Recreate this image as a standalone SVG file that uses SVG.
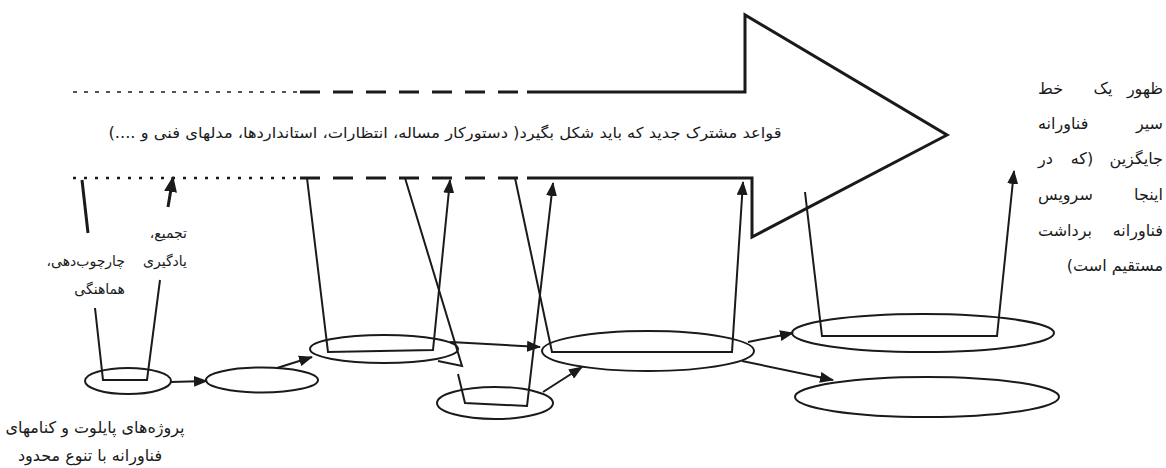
<svg xmlns="http://www.w3.org/2000/svg" width="1166" height="468" viewBox="0 0 1166 468">
<defs>
<marker id="ah" markerUnits="userSpaceOnUse" markerWidth="14" markerHeight="11" refX="13" refY="5.5" orient="auto"><path d="M0,0 L14,5.5 L0,11 z" fill="#1a1a1a"/></marker>
<marker id="ahb" markerUnits="userSpaceOnUse" markerWidth="16" markerHeight="13" refX="15" refY="6.5" orient="auto"><path d="M0,0 L16,6.5 L0,13 z" fill="#1a1a1a"/></marker>
<style>
.t{font-family:"DejaVu Sans",sans-serif;fill:#1a1a1a}
.ln{fill:none;stroke:#1a1a1a;stroke-width:2;stroke-linejoin:miter}
.el{fill:none;stroke:#1a1a1a;stroke-width:2}
.big{fill:none;stroke:#1a1a1a;stroke-width:3;stroke-linejoin:miter}
</style>
</defs>
<rect width="1166" height="468" fill="#ffffff"/>
<g id="big-arrow">
<path class="big" d="M527,92 L745,92 L745,15 L947,135 L752,237 L752,178 L527,178"/>
<path d="M300,92 L527,92" stroke="#1a1a1a" stroke-width="3" stroke-dasharray="20 13"/>
<path d="M73,92 L300,92" stroke="#1a1a1a" stroke-width="1.5" stroke-dasharray="4 7"/>
<path d="M300,178 L527,178" stroke="#1a1a1a" stroke-width="3" stroke-dasharray="20 13"/>
<path d="M73,178 L300,178" stroke="#1a1a1a" stroke-width="2.5" stroke-dasharray="3 8"/>
<text class="t" x="445" y="138" font-size="15" text-anchor="middle" direction="rtl" textLength="673" lengthAdjust="spacingAndGlyphs">قواعد مشترک  جدید که باید شکل بگیرد( دستورکار مساله، انتظارات، استانداردها، مدلهای فنی و ....)</text>
</g>
<g id="node-e1"><ellipse class="el" cx="128" cy="381" rx="43" ry="13"/></g>
<g id="node-e2"><ellipse class="el" cx="262" cy="380" rx="56" ry="12.5"/></g>
<g id="node-e3"><ellipse class="el" cx="384" cy="349" rx="74" ry="14"/></g>
<g id="node-e4"><ellipse class="el" cx="495" cy="403" rx="58" ry="16"/></g>
<g id="node-e5"><ellipse class="el" cx="648" cy="351" rx="106" ry="20"/></g>
<g id="node-e6"><ellipse class="el" cx="923" cy="333" rx="131" ry="19"/></g>
<g id="node-e7"><ellipse class="el" cx="927" cy="397" rx="132" ry="20"/></g>
<g id="connectors">
<path d="M82,180 L88,233" stroke="#1a1a1a" stroke-width="3"/>
<path d="M168,207 L173,177" stroke="#1a1a1a" stroke-width="3" marker-end="url(#ahb)"/>
<path class="ln" d="M95,308 L103,380 L147,380 L160,280"/>
<path class="ln" d="M171,382 L207,381" marker-end="url(#ah)"/>
<path class="ln" d="M277,368 L312,357" marker-end="url(#ah)"/>
<path class="ln" d="M307,178 L328,352 L433,350 L450,180" marker-end="url(#ah)"/>
<path class="ln" d="M405,178 L462,366 L438,361"/>
<path class="ln" d="M458,374 L465,403 L527,406 L553,183" marker-end="url(#ah)"/>
<path class="ln" d="M515,178 L552,352 L732,352 L743,182" marker-end="url(#ah)"/>
<path class="ln" d="M450,342 L540,347" marker-end="url(#ah)"/>
<path class="ln" d="M543,392 L582,367" marker-end="url(#ah)"/>
<path class="ln" d="M748,342 L793,333" marker-end="url(#ah)"/>
<path class="ln" d="M742,361 L833,380" marker-end="url(#ah)"/>
<path class="ln" d="M805,192 L822,336 L997,336 L1014,171" marker-end="url(#ah)"/>
</g>
<g id="label-left" class="t" font-size="14" direction="rtl">
<text x="187" y="238" text-anchor="start">تجمیع،</text>
<text x="187" y="266" text-anchor="start">یادگیری</text>
<text x="125" y="266" text-anchor="start">چارچوب‌دهی،</text>
<text x="125" y="294" text-anchor="start">هماهنگی</text>
</g>
<g id="label-bottom" class="t" font-size="16" direction="rtl">
<text x="95" y="433" text-anchor="middle">پروژه‌های پایلوت و کنامهای</text>
<text x="90" y="461" text-anchor="middle">فناورانه با تنوع محدود</text>
</g>
<g id="label-right" class="t" font-size="16" direction="rtl">
<text y="94"><tspan x="1163" text-anchor="start">ظهور</tspan><tspan x="1103" text-anchor="middle">یک</tspan><tspan x="1038" text-anchor="end">خط</tspan></text>
<text y="129"><tspan x="1163" text-anchor="start">سیر</tspan><tspan x="1038" text-anchor="end">فناورانه</tspan></text>
<text y="164"><tspan x="1163" text-anchor="start">جایگزین</tspan><tspan x="1082" text-anchor="middle">(که</tspan><tspan x="1038" text-anchor="end">در</tspan></text>
<text y="200"><tspan x="1163" text-anchor="start">اینجا</tspan><tspan x="1038" text-anchor="end">سرویس</tspan></text>
<text y="236"><tspan x="1163" text-anchor="start">فناورانه</tspan><tspan x="1038" text-anchor="end">برداشت</tspan></text>
<text y="271" x="1163" text-anchor="start">مستقیم است)</text>
</g>
</svg>
